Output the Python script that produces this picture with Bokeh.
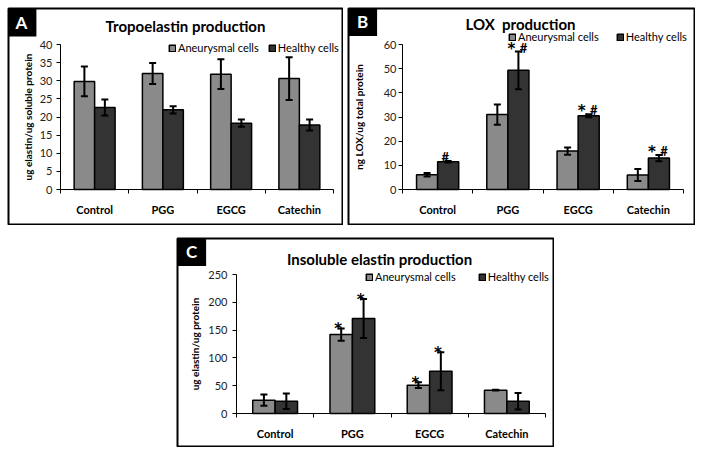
from bokeh.plotting import figure
from bokeh.models import (ColumnDataSource, Whisker, TeeHead, FixedTicker, Legend,
                          LegendItem, Label, Spacer, Range1d)
from bokeh.layouts import row, column
from bokeh.embed import file_html
from bokeh.resources import INLINE
from bokeh.core.properties import value

# ---------------- data ----------------
categories = ["Control", "PGG", "EGCG", "Catechin"]
series_names = ["Aneurysmal cells", "Healthy cells"]

tropo_aneu = [29.8, 32.0, 31.8, 30.6]
tropo_aneu_err = [4.1, 2.9, 4.1, 5.9]
tropo_healthy = [22.6, 22.0, 18.3, 17.8]
tropo_healthy_err = [2.2, 1.0, 1.0, 1.5]

lox_aneu = [6.1, 31.0, 15.9, 6.0]
lox_aneu_err = [0.7, 4.2, 1.5, 2.5]
lox_healthy = [11.5, 49.3, 30.5, 13.0]
lox_healthy_err = [0.3, 7.8, 0.6, 1.3]
lox_star = ["", "*", "*", "*"]
lox_hash = ["#", "#", "#", "#"]

ins_aneu = [24, 142, 51, 42]
ins_aneu_err = [10, 11, 5, 0.5]
ins_healthy = [22, 171, 76, 22]
ins_healthy_err = [14, 35, 34, 15]
ins_aneu_star = ["", "*", "*", ""]
ins_healthy_star = ["", "*", "*", ""]

AN_COLOR = "#8a8a8a"
HE_COLOR = "#333333"
FONT = "Lato"
MARK_FONT = "DejaVu Sans"


def make_panel(letter, title, ylabel, ymax, ystep, aneu, aneu_err, healthy, healthy_err,
               fig_box, data_box, bar_w, title_pos, letter_pos, legend_pos, legend_spacing,
               ylabel_standoff, tick_standoff):
    # fig_box: page position/size of the panel; data_box: page pixels of x=0, x=n, y=0, y=ymax
    px0, py0, w, h = fig_box
    dx0, dx1, dy0, dy1 = data_box
    n = len(categories)
    fl, fr, ft, fb = px0 + 1, px0 + w - 1, py0 + 1, py0 + h - 1
    sxp = (dx1 - dx0) / n
    syp = (dy0 - dy1) / ymax
    xr = Range1d((fl - dx0) / sxp, n + (fr - dx1) / sxp)
    yr = Range1d(-(fb - dy0) / syp, ymax + (dy1 - ft) / syp)

    def scr(x, y):
        return x - fl, fb - y

    p = figure(width=w, height=h, x_range=xr, y_range=yr,
               output_backend="svg", toolbar_location=None,
               min_border_left=1, min_border_right=1, min_border_top=1, min_border_bottom=1)
    p.outline_line_color = "black"
    p.outline_line_width = 2
    p.grid.visible = False
    p.background_fill_color = "white"
    p.border_fill_color = "white"

    centers = [i + 0.5 for i in range(n)]
    xa = [c - bar_w / 2 for c in centers]
    xh = [c + bar_w / 2 for c in centers]

    src_a = ColumnDataSource(dict(x=xa, top=aneu,
                                  upper=[v + e for v, e in zip(aneu, aneu_err)],
                                  lower=[v - e for v, e in zip(aneu, aneu_err)]))
    src_h = ColumnDataSource(dict(x=xh, top=healthy,
                                  upper=[v + e for v, e in zip(healthy, healthy_err)],
                                  lower=[v - e for v, e in zip(healthy, healthy_err)]))
    ra = p.vbar(x="x", top="top", width=bar_w, source=src_a, fill_color=AN_COLOR,
                line_color="black", line_width=1.5)
    rh = p.vbar(x="x", top="top", width=bar_w, source=src_h, fill_color=HE_COLOR,
                line_color="black", line_width=1.5)
    for src in (src_a, src_h):
        wk = Whisker(base="x", upper="upper", lower="lower", source=src,
                     line_color="black", line_width=2, level="annotation",
                     upper_head=TeeHead(size=7, line_width=2, line_color="black"),
                     lower_head=TeeHead(size=7, line_width=2, line_color="black"))
        p.add_layout(wk)

    # x axis: labels at category centres, tick marks on category boundaries
    ax = p.xaxis[0]
    ax.fixed_location = 0
    ax.bounds = (0, n)
    ax.ticker = FixedTicker(ticks=centers, minor_ticks=list(range(n + 1)))
    ax.major_label_overrides = {c: name for c, name in zip(centers, categories)}
    ax.major_tick_line_color = None
    ax.major_tick_out = 0
    ax.major_tick_in = 0
    ax.minor_tick_line_color = "black"
    ax.minor_tick_out = 4
    ax.minor_tick_in = 0
    ax.major_label_standoff = 9
    ax.major_label_text_font = FONT
    ax.major_label_text_font_style = "bold"
    ax.major_label_text_font_size = "11px"
    ax.major_label_text_color = "black"
    ax.axis_line_color = "black"

    ay = p.yaxis[0]
    ay.fixed_location = 0
    ay.bounds = (0, ymax)
    ay.ticker = FixedTicker(ticks=list(range(0, ymax + 1, ystep)), minor_ticks=[])
    ay.major_tick_out = 4
    ay.major_tick_in = 0
    ay.minor_tick_line_color = None
    ay.major_label_standoff = tick_standoff
    ay.major_label_text_font = FONT
    ay.major_label_text_font_size = "11px"
    ay.major_label_text_color = "#222222"
    ay.axis_line_color = "black"
    ay.axis_label = ylabel
    ay.axis_label_text_font = FONT
    ay.axis_label_text_font_style = "bold"
    ay.axis_label_text_font_size = "10px"
    ay.axis_label_text_color = "black"
    ay.axis_label_standoff = ylabel_standoff

    legend = Legend(items=[LegendItem(label=series_names[0], renderers=[ra]),
                           LegendItem(label=series_names[1], renderers=[rh])],
                    orientation="horizontal", location=scr(*legend_pos),
                    border_line_color=None, background_fill_alpha=0,
                    padding=0, margin=0, spacing=legend_spacing,
                    glyph_width=8, glyph_height=8, label_standoff=2, label_height=12,
                    label_text_font=FONT, label_text_font_size="11px",
                    label_text_color="black")
    p.add_layout(legend)

    tx, ty = scr(*title_pos)
    p.add_layout(Label(x=tx, y=ty, x_units="screen", y_units="screen",
                       text=title, text_align="center", text_baseline="middle",
                       text_font=FONT, text_font_style="bold", text_font_size="15px",
                       text_color="black"))
    lx, ly = scr(*letter_pos)
    p.add_layout(Label(x=lx, y=ly, x_units="screen", y_units="screen",
                       text=letter, text_align="center", text_baseline="middle",
                       text_font=FONT, text_font_style="bold", text_font_size="17px",
                       text_color="white", background_fill_color="black",
                       padding=(9, 4)))
    return p, xa, xh


# ---------------- panel A ----------------
pA, _, _ = make_panel("A", "Tropoelastin production", "ug elastin/ug soluble protein",
                      40, 5, tropo_aneu, tropo_aneu_err, tropo_healthy, tropo_healthy_err,
                      (7, 7, 336, 218), (60, 333, 189, 44), 0.3,
                      (185, 25), (21, 21.5), (168, 54), 9, 3, 4)

# ---------------- panel B ----------------
pB, bxa, bxh = make_panel("B", "LOX\u00a0 production", "ng LOX/ug total protein",
                          60, 10, lox_aneu, lox_aneu_err, lox_healthy, lox_healthy_err,
                          (347, 7, 348, 218), (402, 683, 189, 44), 0.3,
                          (520, 23), (362, 21), (508, 43), 17, 16, 2)
tops_b = [v + e for v, e in zip(lox_healthy, lox_healthy_err)]
star_src = ColumnDataSource(dict(x=[x for x, s in zip(bxh, lox_star) if s],
                                 y=[t for t, s in zip(tops_b, lox_star) if s],
                                 t=[s for s in lox_star if s]))
hash_src = ColumnDataSource(dict(x=[x for x, s in zip(bxh, lox_hash) if s],
                                 y=[t for t, s in zip(tops_b, lox_hash) if s],
                                 t=[s for s in lox_hash if s],
                                 xo=[5 if st else -3 for s, st in zip(lox_hash, lox_star) if s]))
pB.text(x="x", y="y", text="t", source=star_src, x_offset=-7, y_offset=-3,
        text_font=value(MARK_FONT), text_font_style="bold", text_font_size="15px",
        text_align="center", text_baseline="alphabetic", text_color="black")
pB.text(x="x", y="y", text="t", source=hash_src, x_offset="xo", y_offset=-4,
        text_font=value(FONT), text_font_style="bold", text_font_size="13px",
        text_align="center", text_baseline="alphabetic", text_color="black")

# ---------------- panel C ----------------
pC, cxa, cxh = make_panel("C", "Insoluble elastin production", "ug elastin/ug protein",
                          250, 50, ins_aneu, ins_aneu_err, ins_healthy, ins_healthy_err,
                          (176, 237, 378, 210), (236, 545, 413, 274), 0.29,
                          (379, 258), (191, 251), (365, 283), 22, 4, 5)
tops_ca = [v + e for v, e in zip(ins_aneu, ins_aneu_err)]
tops_ch = [v + e for v, e in zip(ins_healthy, ins_healthy_err)]
cstar_src = ColumnDataSource(dict(
    x=[x for x, s in zip(cxa, ins_aneu_star) if s] + [x for x, s in zip(cxh, ins_healthy_star) if s],
    y=[t for t, s in zip(tops_ca, ins_aneu_star) if s] + [t for t, s in zip(tops_ch, ins_healthy_star) if s],
    t=[s for s in ins_aneu_star if s] + [s for s in ins_healthy_star if s]))
pC.text(x="x", y="y", text="t", source=cstar_src, x_offset=-3, y_offset=1,
        text_font=value(MARK_FONT), text_font_style="bold", text_font_size="15px",
        text_align="center", text_baseline="alphabetic", text_color="black")

layout = column(Spacer(width=10, height=7),
                row(Spacer(width=7, height=218), pA, Spacer(width=4, height=218), pB),
                Spacer(width=10, height=12),
                row(Spacer(width=176, height=210), pC))

open("out.html", "w").write(file_html(layout, INLINE))
